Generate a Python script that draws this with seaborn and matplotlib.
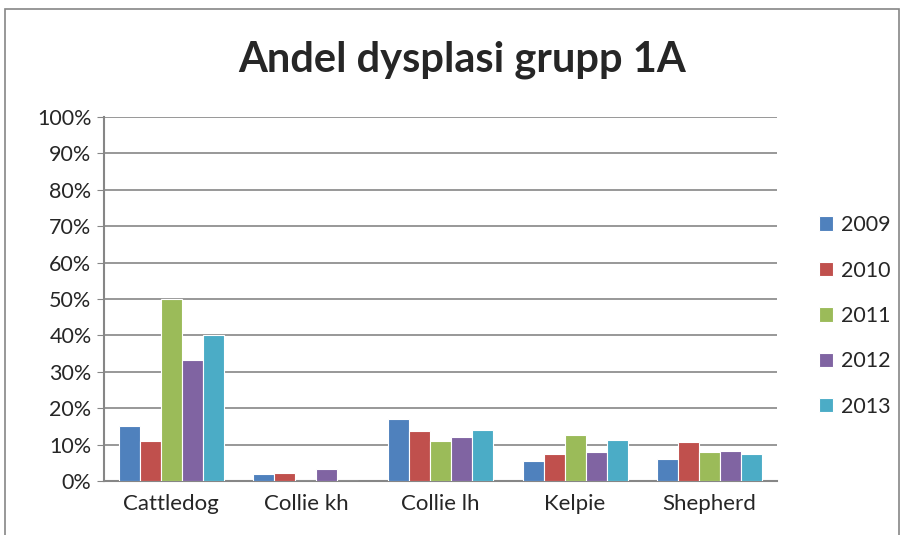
import pandas as pd
import matplotlib.pyplot as plt
import seaborn as sns
from matplotlib.patches import Rectangle
from matplotlib.ticker import PercentFormatter

breeds = ['Cattledog', 'Collie kh', 'Collie lh', 'Kelpie', 'Shepherd']
years = ['2009', '2010', '2011', '2012', '2013']
# andel dysplasi (%) per ras och år
y2009 = [15.0, 1.9, 17.1, 5.5, 6.0]
y2010 = [11.0, 2.2, 13.7, 7.5, 10.7]
y2011 = [50.0, 0.0, 11.0, 12.7, 8.1]
y2012 = [33.3, 3.2, 12.0, 8.1, 8.3]
y2013 = [40.0, 0.0, 14.0, 11.4, 7.5]
colors = ['#4F81BD', '#C0504D', '#9BBB59', '#8064A2', '#4BACC6']

rows = []
for yr, vals in zip(years, [y2009, y2010, y2011, y2012, y2013]):
    for b, v in zip(breeds, vals):
        rows.append({'breed': b, 'year': yr, 'value': v})
df = pd.DataFrame(rows)

sns.set_style('white')
plt.rcParams['font.family'] = ['Lato', 'DejaVu Sans']

fig = plt.figure(figsize=(9.06, 5.35), dpi=100)
ax = fig.add_axes([104/906, 1-481/535, (777-104)/906, (481-117)/535])

sns.barplot(data=df, x='breed', y='value', hue='year', palette=colors,
            saturation=1, width=0.78, edgecolor='white', linewidth=0.8,
            ax=ax, zorder=3)

ax.set_ylim(0, 100)
ax.set_yticks(range(0, 101, 10))
ax.yaxis.set_major_formatter(PercentFormatter(decimals=0))
ax.yaxis.grid(True, color='#868686', linewidth=1.2, zorder=0)
ax.set_axisbelow(True)
ax.set_xlabel('')
ax.set_ylabel('')
for s in ['top', 'right']:
    ax.spines[s].set_visible(False)
for s in ['left', 'bottom']:
    ax.spines[s].set_color('#868686')
    ax.spines[s].set_linewidth(1.5)
ax.tick_params(axis='y', length=5, color='#868686', labelsize=15.5, pad=4, left=True)
ax.tick_params(axis='x', length=0, labelsize=16, pad=9)

ax.get_legend().remove()
handles, labels = ax.get_legend_handles_labels()
fig.legend(handles, labels, loc='center left', bbox_to_anchor=(810/906, 1-316/535),
           frameon=False, fontsize=15.5, labelspacing=1.18, handlelength=0.65,
           handleheight=0.65, handletextpad=0.4, borderaxespad=0)

fig.text(462/906, 1-60/535, 'Andel dysplasi grupp 1A', ha='center', va='center',
         fontsize=30, fontweight='bold')

fig.patches.append(Rectangle((5/906, -0.01), 894/906, 1-9/535+0.01,
                             transform=fig.transFigure, fill=False,
                             edgecolor='#868686', linewidth=1.2))

plt.savefig('out.png', dpi=100)
